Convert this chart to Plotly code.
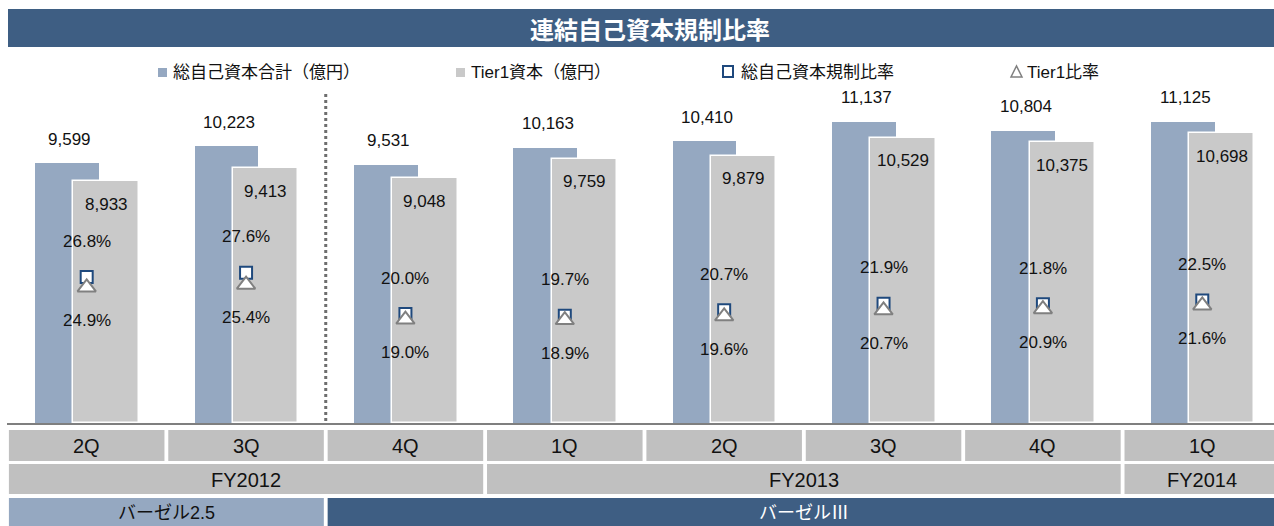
import plotly.graph_objects as go

# data
quarters = ['2Q', '3Q', '4Q', '1Q', '2Q', '3Q', '4Q', '1Q']
total_capital = [9599, 10223, 9531, 10163, 10410, 11137, 10804, 11125]
tier1_capital = [8933, 9413, 9048, 9759, 9879, 10529, 10375, 10698]
total_ratio = [26.8, 27.6, 20.0, 19.7, 20.7, 21.9, 21.8, 22.5]
tier1_ratio = [24.9, 25.4, 19.0, 18.9, 19.6, 20.7, 20.9, 21.6]
fiscal_years = [('FY2012', 0, 2), ('FY2013', 3, 6), ('FY2014', 7, 7)]
regimes = [('バーゼル2.5', 0, 1), ('バーゼルⅢ', 2, 7)]

BLUE = '#95A8C1'
GRAY = '#C9C9C9'
NAVY = '#3E5E83'
CELL = '#C0C0C0'
FONT = 'Liberation Sans, Arial, Noto Sans CJK JP'

W, H = 1274, 526
L, R, T, B = 7, 0, 44, 103
plot_w = W - L - R
plot_h = H - T - B


def px(x):
    return (x - L) / plot_w


def py(y):
    return (H - B - y) / plot_h


xs = list(range(len(quarters)))

fig = go.Figure()
fig.add_trace(go.Bar(x=xs, y=total_capital, offset=-0.323, width=0.40,
                     marker=dict(color=BLUE, line=dict(width=0)), name='総自己資本合計（億円）'))
fig.add_trace(go.Bar(x=xs, y=tier1_capital, offset=-0.083, width=0.41,
                     marker=dict(color=GRAY, line=dict(color='white', width=1.5)), name='Tier1資本（億円）'))
fig.add_trace(go.Scatter(x=xs, y=total_ratio, yaxis='y2', mode='markers', name='総自己資本規制比率',
                         marker=dict(symbol='square', size=12, color='white',
                                     line=dict(color='#1F497D', width=2))))
fig.add_trace(go.Scatter(x=xs, y=tier1_ratio, yaxis='y2', mode='markers', name='Tier1比率',
                         marker=dict(symbol='triangle-up', size=16, color='white',
                                     line=dict(color='#808080', width=2))))

ann = []
shapes = []
txt = dict(family=FONT, size=17, color='#111111')
mid = dict(xanchor='center', yanchor='middle', showarrow=False)

for i in xs:
    ann.append(dict(x=i - 0.105, y=total_capital[i], text=f'{total_capital[i]:,}',
                    yshift=24, font=txt, **mid))
    ann.append(dict(x=i + 0.122, y=tier1_capital[i], text=f'{tier1_capital[i]:,}',
                    yshift=-23, font=txt, **mid))
    ann.append(dict(x=i, y=total_ratio[i], yref='y2', text=f'{total_ratio[i]:.1f}%',
                    yshift=36, font=txt, **mid))
    ann.append(dict(x=i, y=tier1_ratio[i], yref='y2', text=f'{tier1_ratio[i]:.1f}%',
                    yshift=-33, font=txt, **mid))

# category cells under the axis
g = 0.012
cell_font = dict(family=FONT, size=20, color='#111111')
for i, q in enumerate(quarters):
    shapes.append(dict(type='rect', xref='x', yref='paper', x0=i - 0.5 + g, x1=i + 0.5 - g,
                       y0=py(461), y1=py(430), fillcolor=CELL, line=dict(width=0)))
    ann.append(dict(x=i, y=py(446), yref='paper', text=q, font=cell_font, **mid))
for name, a, b in fiscal_years:
    shapes.append(dict(type='rect', xref='x', yref='paper', x0=a - 0.5 + g, x1=b + 0.5 - g,
                       y0=py(494), y1=py(464), fillcolor=CELL, line=dict(width=0)))
    ann.append(dict(x=(a + b) / 2, y=py(480), yref='paper', text=name, font=cell_font, **mid))
for k, (name, a, b) in enumerate(regimes):
    shapes.append(dict(type='rect', xref='x', yref='paper', x0=a - 0.5 + g, x1=b + 0.5 - g,
                       y0=py(540), y1=py(498), fillcolor=BLUE if k == 0 else NAVY, line=dict(width=0)))
    ann.append(dict(x=(a + b) / 2, y=py(513), yref='paper', text=name,
                    font=dict(family=FONT, size=18, color='#111111' if k == 0 else 'white'), **mid))

# title banner
shapes.append(dict(type='rect', xref='paper', yref='paper', x0=px(8), x1=px(1280),
                   y0=py(47), y1=py(9), fillcolor=NAVY, line=dict(width=0)))
ann.append(dict(x=px(650), y=py(28), xref='paper', yref='paper', text='<b>連結自己資本規制比率</b>',
                font=dict(family='Noto Sans CJK JP', size=24, color='white'), **mid))

# dotted separator between Basel 2.5 and Basel III
shapes.append(dict(type='line', xref='x', yref='paper', x0=1.5, x1=1.5, y0=py(421), y1=py(92),
                   line=dict(color='#6E6E6E', width=3, dash='dot')))

# legend drawn by hand
leg = dict(family='Liberation Sans, Noto Sans CJK JP', size=17, color='#111111')
shapes.append(dict(type='rect', xref='paper', yref='paper', x0=px(158), x1=px(167), y0=py(77), y1=py(68),
                   fillcolor=BLUE, line=dict(width=0)))
shapes.append(dict(type='rect', xref='paper', yref='paper', x0=px(456), x1=px(465), y0=py(77), y1=py(68),
                   fillcolor=GRAY, line=dict(width=0)))
shapes.append(dict(type='rect', xref='paper', yref='paper', x0=px(723), x1=px(733), y0=py(77), y1=py(66),
                   fillcolor='white', line=dict(color='#1F497D', width=2)))
shapes.append(dict(type='path', xref='paper', yref='paper',
                   path=f'M {px(1011)} {py(77)} L {px(1022)} {py(77)} L {px(1016.5)} {py(66)} Z',
                   fillcolor='white', line=dict(color='#808080', width=1.5)))
for x, t in [(171, '総自己資本合計（億円）'), (469, 'Tier1資本（億円）'),
             (739, '総自己資本規制比率'), (1025, 'Tier1比率')]:
    ann.append(dict(x=px(x), y=py(72), xref='paper', yref='paper', xanchor='left', yanchor='middle',
                    text=t, showarrow=False, font=leg))

fig.update_layout(
    width=W, height=H,
    margin=dict(l=L, r=R, t=T, b=B),
    paper_bgcolor='white', plot_bgcolor='white',
    barmode='overlay', bargap=0,
    showlegend=False,
    xaxis=dict(range=[-0.5, 7.45], showticklabels=False, ticks='', showgrid=False, zeroline=False,
               showline=True, linecolor='#7F7F7F', linewidth=2, fixedrange=True),
    yaxis=dict(range=[0, 14000], visible=False, fixedrange=True),
    yaxis2=dict(range=[0, 69.6], overlaying='y', side='right', visible=False, fixedrange=True),
    annotations=ann,
    shapes=shapes,
)

fig.write_html('out.html', config={'displayModeBar': False},
               post_script="document.body.style.margin='0';document.body.style.overflow='hidden';")
